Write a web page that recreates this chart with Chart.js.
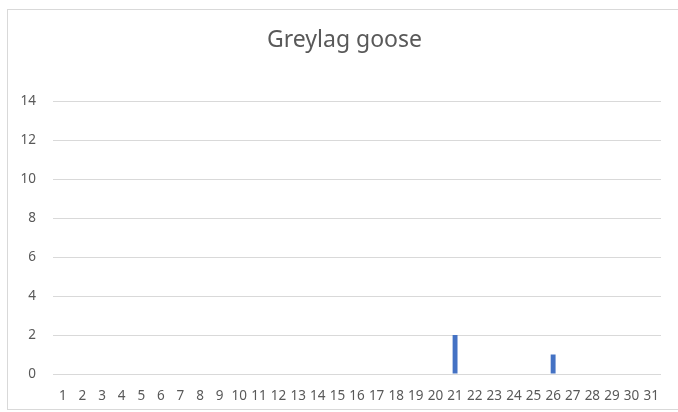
<!DOCTYPE html>
<html>
<head>
<meta charset="utf-8">
<script src="https://cdn.jsdelivr.net/npm/chart.js@4"></script>
<style>
  html, body { margin: 0; padding: 0; background: #fff; }
  #wrap { position: relative; width: 678px; height: 412px; }
  #frame { position: absolute; left: 7px; top: 9px; right: 0px; bottom: 2px; border: 1px solid #d9d9d9; border-right: none; }
  canvas { position: absolute; left: 0; top: 0; }
</style>
</head>
<body>
<div id="wrap">
  <div id="frame"></div>
  <canvas id="chart" width="678" height="412"></canvas>
</div>
<script>
// days of the month
const days = ["1","2","3","4","5","6","7","8","9","10","11","12","13","14","15","16",
  "17","18","19","20","21","22","23","24","25","26","27","28","29","30","31"];
// counts per day
const counts = [0,0,0,0,0,0,0,0,0,0,0,0,0,0,0,0,0,0,0,0,2,0,0,0,0,1,0,0,0,0,0];
const yTicks = [0, 2, 4, 6, 8, 10, 12, 14];

const textColor = '#595959';
const fontFamily = "'Noto Sans', 'Open Sans', sans-serif";

// the original title sits a bit right of the plot centre
const shiftTitle = {
  id: 'shiftTitle',
  afterLayout(chart) {
    const t = chart.titleBlock;
    if (t) { t.left += 14; t.right += 14; }
  }
};

const ctx = document.getElementById('chart').getContext('2d');
new Chart(ctx, {
  type: 'bar',
  data: {
    labels: days,
    datasets: [{
      label: 'Greylag goose',
      data: counts,
      backgroundColor: '#4472c4',
      barPercentage: 1,
      categoryPercentage: 0.25
    }]
  },
  options: {
    responsive: false,
    animation: false,
    layout: { padding: { left: 0, right: 17, top: 0, bottom: 0 } },
    plugins: {
      legend: { display: false },
      tooltip: { enabled: false },
      title: {
        display: true,
        text: 'Greylag goose',
        color: textColor,
        font: { family: fontFamily, size: 23, weight: 'normal', lineHeight: 1.2 },
        padding: { top: 27, bottom: 46.4 }
      }
    },
    scales: {
      x: {
        grid: { display: false, drawTicks: false },
        border: { display: false },
        ticks: {
          color: textColor,
          font: { family: fontFamily, size: 13.5 },
          autoSkip: false,
          maxRotation: 0,
          padding: 14
        },
        afterFit: (scale) => { scale.height = 38; }
      },
      y: {
        min: 0,
        max: 14,
        afterBuildTicks: (scale) => { scale.ticks = yTicks.map(v => ({ value: v })); },
        grid: { color: '#d9d9d9', drawTicks: false, lineWidth: 1 },
        border: { display: false },
        ticks: {
          color: textColor,
          font: { family: fontFamily, size: 13.5 },
          padding: 17
        },
        afterFit: (scale) => { scale.width = 53; }
      }
    }
  },
  plugins: [shiftTitle]
});
</script>
</body>
</html>
